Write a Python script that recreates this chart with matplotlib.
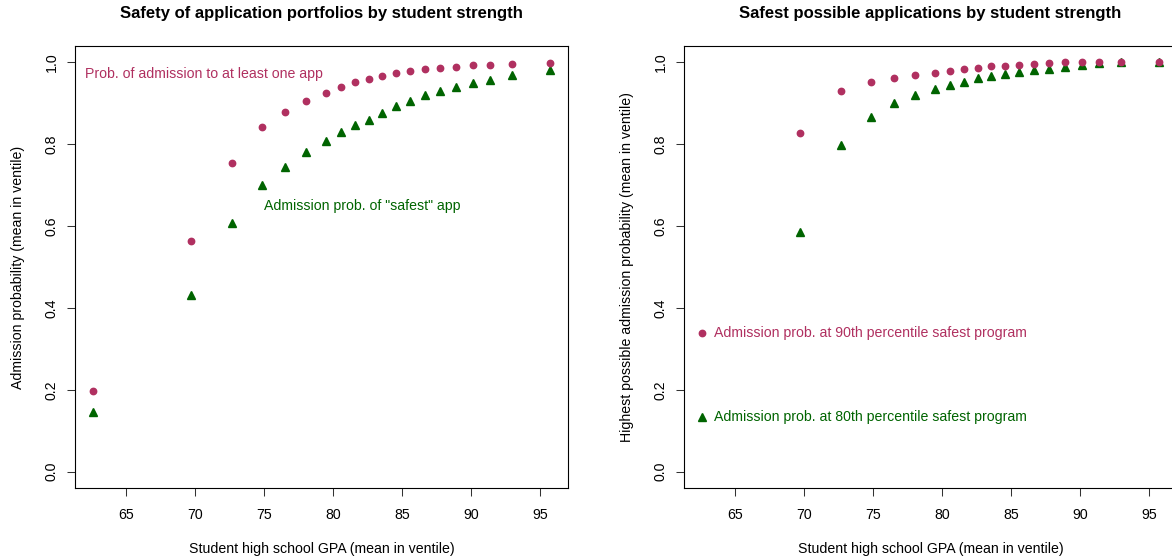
import numpy as np
import matplotlib.pyplot as plt

plt.rcParams['font.family'] = ['Liberation Sans', 'DejaVu Sans']

# mean GPA of each ventile
gpa = [62.63, 69.69, 72.70, 74.88, 76.52, 78.02, 79.47, 80.58, 81.57, 82.59,
       83.57, 84.59, 85.56, 86.67, 87.73, 88.89, 90.17, 91.40, 92.99, 95.70]

# left panel
p_any = [0.196, 0.563, 0.755, 0.841, 0.879, 0.905, 0.926, 0.941, 0.952, 0.959,
         0.966, 0.974, 0.979, 0.983, 0.986, 0.989, 0.993, 0.993, 0.996, 0.998]
p_safest = [0.146, 0.432, 0.608, 0.700, 0.745, 0.781, 0.807, 0.831, 0.848, 0.860,
            0.876, 0.894, 0.906, 0.920, 0.929, 0.940, 0.950, 0.958, 0.969, 0.982]

# right panel
p90 = [0.338, 0.828, 0.930, 0.952, 0.962, 0.968, 0.975, 0.979, 0.983, 0.986,
       0.990, 0.992, 0.994, 0.997, 0.998, 1.000, 1.000, 1.000, 1.000, 1.000]
p80 = [0.133, 0.585, 0.798, 0.866, 0.900, 0.920, 0.935, 0.945, 0.953, 0.961,
       0.966, 0.972, 0.976, 0.981, 0.985, 0.989, 0.994, 0.998, 1.000, 1.000]

xticks = [65, 70, 75, 80, 85, 90, 95]
yticks = [0.0, 0.2, 0.4, 0.6, 0.8, 1.0]

pink = '#B03060'
green = '#006400'
fs = 10.2

W, H = 1172, 558
fig = plt.figure(figsize=(W / 100, H / 100), dpi=100)

# axes boxes in pixels (the right one runs past the right edge, as in the original)
ax1 = fig.add_axes([75 / W, (H - 488) / H, 493 / W, 442 / H])
ax2 = fig.add_axes([684 / W, (H - 488) / H, 493 / W, 442 / H])


def style(ax, title, ylabel):
    ax.set_xlim(61.31, 97.02)
    ax.set_ylim(-0.04, 1.04)
    ax.set_xticks(xticks)
    ax.set_yticks(yticks)
    ax.set_yticklabels(['%.1f' % v for v in yticks], rotation=90, va='center')
    ax.tick_params(axis='both', length=5.8, width=0.75, labelsize=fs, color='#333333')
    ax.tick_params(axis='x', pad=8.5)
    ax.tick_params(axis='y', pad=6.0)
    for s in ax.spines.values():
        s.set_linewidth(0.8)
    ax.text(0.5, 1.0627, title, transform=ax.transAxes, ha='center', va='baseline',
            fontsize=12, fontweight='bold')
    ax.text(0.5, -0.147, 'Student high school GPA (mean in ventile)', transform=ax.transAxes,
            ha='center', va='baseline', fontsize=fs)
    ax.text(-0.1156, 0.5, ylabel, transform=ax.transAxes, ha='center', va='center',
            rotation=90, fontsize=fs)


style(ax1, 'Safety of application portfolios by student strength',
      'Admission probability (mean in ventile)')
ax1.plot(gpa, p_safest, linestyle='none', marker='^', ms=5.8, color=green, mec=green)
ax1.plot(gpa, p_any, linestyle='none', marker='o', ms=4.6, color=pink, mec=pink)
ax1.text(62.03, 0.972, 'Prob. of admission to at least one app', color=pink,
         ha='left', va='center', fontsize=fs)
ax1.text(75.0, 0.649, 'Admission prob. of "safest" app', color=green,
         ha='left', va='center', fontsize=fs)

style(ax2, 'Safest possible applications by student strength',
      'Highest possible admission probability (mean in ventile)')
ax2.plot(gpa, p80, linestyle='none', marker='^', ms=5.8, color=green, mec=green)
ax2.plot(gpa, p90, linestyle='none', marker='o', ms=4.6, color=pink, mec=pink)
ax2.annotate('Admission prob. at 90th percentile safest program', (gpa[0], p90[0]),
             xytext=(8.3, 0), textcoords='offset points', color=pink,
             ha='left', va='center', fontsize=fs)
ax2.annotate('Admission prob. at 80th percentile safest program', (gpa[0], p80[0]),
             xytext=(8.3, 0), textcoords='offset points', color=green,
             ha='left', va='center', fontsize=fs)

fig.savefig('out.png', dpi=100)
